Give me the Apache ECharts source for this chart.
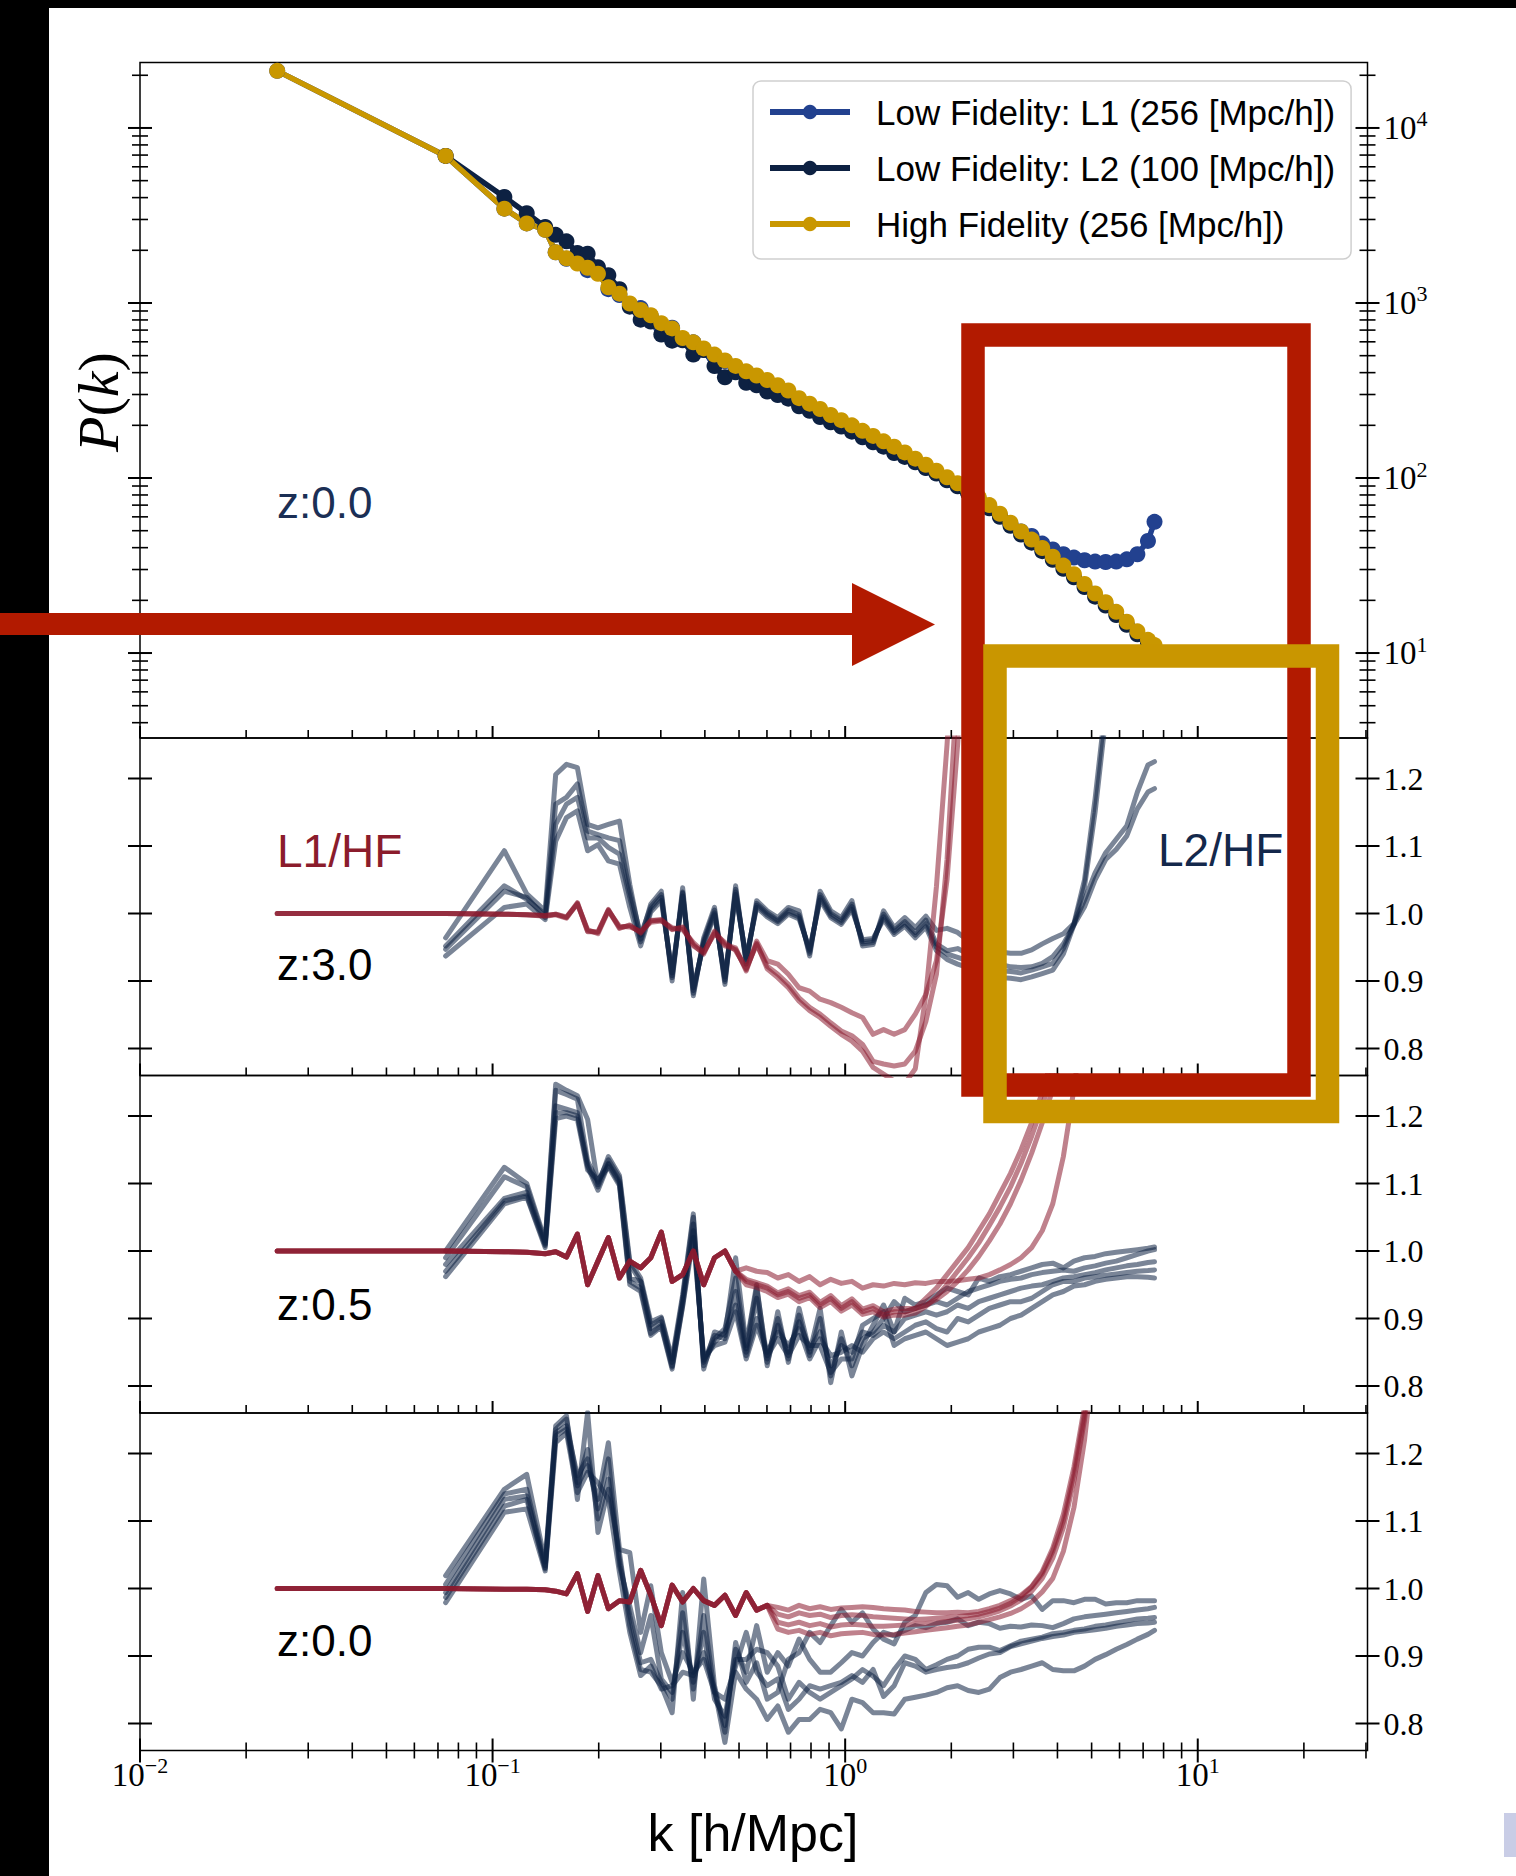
<!DOCTYPE html>
<html><head><meta charset="utf-8">
<script src="https://cdn.jsdelivr.net/npm/echarts@6/dist/echarts.min.js"></script>
<style>html,body{margin:0;padding:0;background:#fff;}#c{width:1516px;height:1876px;}</style>
</head><body><div id="c"></div>
<script>
// ---------- k grid (h/Mpc) ----------
const kGrid = [0.0245, 0.0736, 0.108, 0.125, 0.141, 0.151, 0.162, 0.174, 0.186, 0.199, 0.213, 0.229, 0.245, 0.263, 0.281, 0.301, 0.323, 0.346, 0.371, 0.397, 0.426, 0.456, 0.489, 0.524, 0.561, 0.601, 0.644, 0.690, 0.740, 0.793, 0.849, 0.910, 0.975, 1.045, 1.120, 1.200, 1.285, 1.377, 1.476, 1.581, 1.694, 1.815, 1.945, 2.084, 2.233, 2.393, 2.564, 2.747, 2.944, 3.154, 3.380, 3.622, 3.880, 4.158, 4.455, 4.774, 5.115, 5.481, 5.873, 6.292, 6.742, 7.224, 7.540];

// ---------- top panel P(k) at z = 0 ----------
const pkL1 = [21200, 6920, 3460, 2850, 2620, 1950, 1790, 1720, 1540, 1500, 1200, 1110, 975, 935, 842, 725, 722, 618, 596, 540, 495, 465, 420, 404, 373, 354, 330, 306, 278, 258, 241, 222, 208, 194, 181, 169, 157, 147, 136, 125, 115, 107, 98.0, 90.5, 82.6, 75.5, 68.2, 61.0, 54.5, 49.5, 46.6, 42.2, 39.1, 36.7, 35.1, 33.9, 33.3, 33.1, 33.3, 34.3, 36.7, 43.7, 56.2];
const pkL2 = [null, 6920, 4030, 3260, 2720, 2450, 2250, 1930, 1910, 1600, 1440, 1200, 953, 803, 783, 660, 609, 612, 507, 539, 436, 376, 402, 350, 339, 312, 298, 284, 257, 242, 223, 208, 197, 184, 171, 160, 151, 139, 132, 123, 114, 106, 97.0, 89.6, 81.7, 74.5, 67.2, 60.0, 53.3, 47.5, 42.7, 38.2, 34.1, 30.3, 27.1, 23.8, 21.0, 18.7, 16.5, 14.5, 12.8, 11.4, 10.7];
const pkHF = [21200, 6920, 3460, 2850, 2620, 1950, 1800, 1680, 1590, 1470, 1230, 1130, 993, 912, 851, 767, 716, 631, 596, 550, 507, 470, 437, 407, 385, 363, 339, 316, 286, 266, 248, 229, 214, 200, 186, 174, 162, 151, 140, 129, 119, 110, 101, 93.3, 85.1, 77.6, 70.0, 62.5, 55.5, 49.5, 44.5, 39.8, 35.5, 31.6, 28.2, 24.8, 21.9, 19.5, 17.2, 15.1, 13.3, 11.9, 11.1];

// ---------- ratio panel z = 3.0 ----------
const z3_L2_a = [null, 0.964, 1.093, 1.029, 1.004, 1.206, 1.221, 1.216, 1.132, 1.127, 1.132, 1.137, 1.043, 0.962, 1.014, 1.033, 0.900, 1.038, 0.878, 0.964, 1.009, 0.895, 1.041, 0.925, 1.019, 1.004, 0.994, 1.009, 1.004, 0.937, 1.033, 1.004, 0.994, 1.019, 0.952, 0.954, 1.004, 0.979, 0.994, 0.979, 0.996, 0.975, 0.978, 0.972, 0.960, 0.950, 0.945, 0.943, 0.941, 0.941, 0.946, 0.955, 0.963, 0.970, 0.985, 1.050, 1.170, 1.310, 1.500];
const z3_L2_b = [null, 0.952, 1.041, 1.021, 0.999, 1.162, 1.172, 1.192, 1.122, 1.117, 1.112, 1.108, 1.033, 0.968, 1.010, 1.028, 0.905, 1.032, 0.882, 0.960, 1.005, 0.899, 1.036, 0.929, 1.015, 1.001, 0.990, 1.005, 0.998, 0.941, 1.028, 1.000, 0.990, 1.014, 0.955, 0.957, 0.999, 0.975, 0.988, 0.972, 0.990, 0.955, 0.945, 0.948, 0.940, 0.935, 0.930, 0.925, 0.921, 0.920, 0.921, 0.926, 0.936, 0.955, 0.983, 1.040, 1.150, 1.290, 1.470];
const z3_L2_c = [null, 0.947, 1.033, 1.024, 0.994, 1.132, 1.162, 1.172, 1.112, 1.112, 1.098, 1.088, 1.024, 0.958, 1.006, 1.024, 0.908, 1.030, 0.886, 0.957, 1.001, 0.902, 1.032, 0.932, 1.012, 0.998, 0.988, 1.002, 0.995, 0.944, 1.024, 0.997, 0.987, 1.010, 0.958, 0.960, 0.995, 0.972, 0.985, 0.968, 0.985, 0.950, 0.940, 0.935, 0.930, 0.925, 0.920, 0.915, 0.914, 0.912, 0.916, 0.921, 0.926, 0.948, 0.985, 1.020, 1.060, 1.090, 1.110, 1.130, 1.180, 1.220, 1.225];
const z3_L2_d = [null, 0.937, 1.009, 1.014, 0.991, 1.107, 1.142, 1.152, 1.093, 1.102, 1.078, 1.073, 1.009, 0.952, 1.002, 1.019, 0.912, 1.026, 0.890, 0.954, 0.998, 0.906, 1.028, 0.935, 1.009, 0.995, 0.985, 0.999, 0.992, 0.947, 1.020, 0.994, 0.984, 1.006, 0.961, 0.963, 0.991, 0.969, 0.981, 0.964, 0.980, 0.945, 0.932, 0.925, 0.920, 0.915, 0.910, 0.905, 0.904, 0.902, 0.906, 0.911, 0.916, 0.940, 0.983, 1.010, 1.050, 1.080, 1.095, 1.115, 1.155, 1.180, 1.185];
const z3_L1_a = [1.000, 1.000, 0.999, 0.998, 0.997, 0.999, 0.994, 1.016, 0.974, 0.972, 1.006, 0.979, 0.982, 0.972, 0.989, 0.991, 0.977, 0.979, 0.954, 0.940, 0.974, 0.954, 0.949, 0.915, 0.959, 0.930, 0.925, 0.910, 0.890, 0.885, 0.873, 0.868, 0.861, 0.853, 0.846, 0.821, 0.828, 0.821, 0.828, 0.851, 0.880, 0.930, 1.050, 1.250, 1.500];
const z3_L1_b = [1.000, 1.000, 0.999, 0.998, 0.997, 0.999, 0.995, 1.014, 0.976, 0.970, 1.004, 0.981, 0.980, 0.974, 0.987, 0.989, 0.979, 0.976, 0.957, 0.943, 0.970, 0.957, 0.945, 0.919, 0.954, 0.922, 0.910, 0.895, 0.875, 0.861, 0.851, 0.838, 0.826, 0.819, 0.806, 0.781, 0.777, 0.774, 0.777, 0.796, 0.840, 0.910, 1.080, 1.350];
const z3_L1_c = [1.000, 1.000, 0.999, 0.998, 0.996, 0.998, 0.993, 1.015, 0.973, 0.973, 1.005, 0.978, 0.983, 0.971, 0.990, 0.990, 0.976, 0.980, 0.952, 0.942, 0.972, 0.952, 0.947, 0.917, 0.956, 0.918, 0.905, 0.890, 0.870, 0.856, 0.846, 0.833, 0.821, 0.811, 0.796, 0.772, 0.762, 0.752, 0.748, 0.770, 0.880, 1.040, 1.250, 1.500];

// ---------- ratio panel z = 0.5 ----------
const z05_L2_a = [null, 1.000, 1.124, 1.100, 1.015, 1.247, 1.238, 1.230, 1.195, 1.098, 1.140, 1.112, 0.985, 0.960, 0.895, 0.902, 0.840, 0.935, 1.055, 0.825, 0.880, 0.875, 0.990, 0.860, 0.950, 0.830, 0.910, 0.835, 0.915, 0.850, 0.915, 0.805, 0.880, 0.815, 0.860, 0.890, 0.920, 0.880, 0.930, 0.920, 0.925, 0.935, 0.945, 0.940, 0.935, 0.960, 0.955, 0.962, 0.965, 0.970, 0.975, 0.980, 0.982, 0.975, 0.985, 0.990, 0.992, 0.996, 0.998, 1.000, 1.002, 1.004, 1.006];
const z05_L2_b = [null, 0.990, 1.110, 1.095, 1.012, 1.238, 1.232, 1.225, 1.133, 1.102, 1.135, 1.108, 0.980, 0.955, 0.890, 0.900, 0.835, 0.930, 1.050, 0.830, 0.870, 0.885, 0.960, 0.855, 0.945, 0.840, 0.900, 0.840, 0.905, 0.845, 0.900, 0.815, 0.870, 0.830, 0.870, 0.880, 0.900, 0.925, 0.910, 0.915, 0.920, 0.925, 0.920, 0.930, 0.940, 0.945, 0.950, 0.955, 0.958, 0.960, 0.965, 0.968, 0.970, 0.972, 0.970, 0.975, 0.978, 0.982, 0.985, 0.990, 0.995, 1.000, 1.002];
const z05_L2_c = [null, 0.980, 1.078, 1.087, 1.010, 1.215, 1.210, 1.205, 1.128, 1.095, 1.130, 1.103, 0.960, 0.955, 0.885, 0.895, 0.830, 0.925, 1.040, 0.835, 0.875, 0.870, 0.940, 0.850, 0.930, 0.835, 0.890, 0.850, 0.895, 0.855, 0.880, 0.830, 0.860, 0.850, 0.880, 0.875, 0.890, 0.880, 0.900, 0.905, 0.910, 0.905, 0.910, 0.920, 0.915, 0.925, 0.930, 0.935, 0.940, 0.945, 0.948, 0.950, 0.955, 0.960, 0.962, 0.965, 0.968, 0.972, 0.975, 0.978, 0.980, 0.983, 0.984];
const z05_L2_d = [null, 0.970, 1.074, 1.082, 1.008, 1.205, 1.205, 1.200, 1.125, 1.090, 1.128, 1.100, 0.955, 0.945, 0.878, 0.890, 0.828, 0.920, 1.030, 0.838, 0.865, 0.880, 0.920, 0.845, 0.900, 0.850, 0.880, 0.860, 0.885, 0.840, 0.870, 0.845, 0.850, 0.860, 0.850, 0.870, 0.880, 0.870, 0.880, 0.890, 0.895, 0.885, 0.880, 0.900, 0.895, 0.905, 0.915, 0.920, 0.925, 0.925, 0.930, 0.940, 0.950, 0.955, 0.955, 0.960, 0.962, 0.964, 0.966, 0.968, 0.970, 0.971, 0.972];
const z05_L2_e = [null, 0.962, 1.070, 1.080, 1.005, 1.196, 1.200, 1.195, 1.120, 1.105, 1.125, 1.097, 0.950, 0.940, 0.875, 0.888, 0.825, 0.918, 1.020, 0.842, 0.860, 0.865, 0.910, 0.840, 0.890, 0.845, 0.870, 0.845, 0.875, 0.860, 0.860, 0.820, 0.840, 0.840, 0.890, 0.900, 0.910, 0.860, 0.870, 0.875, 0.880, 0.870, 0.860, 0.865, 0.870, 0.880, 0.885, 0.890, 0.900, 0.905, 0.915, 0.925, 0.935, 0.940, 0.948, 0.950, 0.955, 0.958, 0.960, 0.962, 0.962, 0.961, 0.960];
const z05_L1_low = [1.000, 1.000, 0.999, 0.998, 0.996, 0.999, 0.991, 1.025, 0.950, 0.985, 1.020, 0.960, 0.985, 0.975, 0.990, 1.028, 0.955, 0.965, 1.000, 0.950, 0.990, 1.000, 0.970];
const z05_L1_a = [0.975, 0.970, 0.968, 0.960, 0.965, 0.955, 0.962, 0.950, 0.958, 0.952, 0.955, 0.945, 0.950, 0.948, 0.952, 0.950, 0.953, 0.952, 0.955, 0.955, 0.956, 0.958, 0.960, 0.965, 0.972, 0.980, 0.990, 1.005, 1.030, 1.070, 1.140, 1.240, 1.360];
const z05_L1_b = [0.955, 0.950, 0.945, 0.935, 0.940, 0.930, 0.935, 0.920, 0.930, 0.915, 0.925, 0.910, 0.915, 0.905, 0.910, 0.910, 0.915, 0.930, 0.945, 0.965, 0.985, 1.005, 1.030, 1.055, 1.085, 1.115, 1.150, 1.190, 1.235, 1.290];
const z05_L1_c = [0.950, 0.946, 0.940, 0.931, 0.936, 0.925, 0.931, 0.916, 0.925, 0.911, 0.920, 0.906, 0.910, 0.902, 0.905, 0.905, 0.908, 0.918, 0.932, 0.950, 0.970, 0.990, 1.012, 1.038, 1.065, 1.095, 1.130, 1.170, 1.215, 1.265, 1.330];
const z05_L1_d = [0.958, 0.953, 0.948, 0.938, 0.944, 0.934, 0.939, 0.924, 0.934, 0.919, 0.929, 0.914, 0.919, 0.910, 0.914, 0.915, 0.915, 0.920, 0.928, 0.940, 0.955, 0.972, 0.992, 1.015, 1.040, 1.070, 1.105, 1.145, 1.190, 1.240, 1.300];

// ---------- ratio panel z = 0.0 ----------
const z0_L2_a = [null, 1.019, 1.147, 1.169, 1.039, 1.241, 1.256, 1.132, 1.261, 1.083, 1.147, 1.053, 0.945, 0.880, 0.876, 0.856, 0.816, 0.994, 0.836, 1.014, 0.856, 0.787, 0.920, 0.861, 0.890, 0.836, 0.846, 0.895, 0.905, 0.935, 0.920, 0.945, 0.969, 0.950, 0.964, 0.940, 0.925, 0.918, 0.950, 0.960, 0.994, 1.006, 1.004, 0.987, 0.994, 0.984, 0.992, 0.997, 0.992, 0.984, 0.989, 0.969, 0.982, 0.982, 0.979, 0.984, 0.984, 0.977, 0.979, 0.979, 0.982, 0.982, 0.982];
const z0_L2_b = [null, 1.006, 1.140, 1.147, 1.034, 1.236, 1.251, 1.157, 1.206, 1.103, 1.162, 1.043, 0.960, 0.890, 0.895, 0.861, 0.836, 0.964, 0.851, 0.960, 0.846, 0.797, 0.910, 0.876, 0.945, 0.876, 0.905, 0.885, 0.925, 0.895, 0.876, 0.876, 0.890, 0.905, 0.900, 0.920, 0.935, 0.930, 0.938, 0.945, 0.942, 0.948, 0.950, 0.955, 0.945, 0.950, 0.948, 0.941, 0.944, 0.943, 0.946, 0.945, 0.942, 0.948, 0.955, 0.958, 0.960, 0.962, 0.964, 0.966, 0.968, 0.970, 0.972];
const z0_L2_c = [null, 0.994, 1.132, 1.137, 1.031, 1.231, 1.241, 1.167, 1.192, 1.118, 1.192, 1.034, 0.974, 0.905, 0.960, 0.866, 0.846, 0.935, 0.861, 0.935, 0.836, 0.811, 0.895, 0.895, 0.910, 0.905, 0.885, 0.836, 0.861, 0.846, 0.836, 0.846, 0.856, 0.866, 0.880, 0.870, 0.856, 0.880, 0.900, 0.895, 0.880, 0.887, 0.895, 0.900, 0.910, 0.913, 0.913, 0.908, 0.915, 0.922, 0.925, 0.928, 0.933, 0.935, 0.938, 0.940, 0.944, 0.946, 0.949, 0.952, 0.955, 0.956, 0.957];
const z0_L2_d = [null, 0.987, 1.122, 1.132, 1.029, 1.226, 1.236, 1.152, 1.182, 1.132, 1.216, 1.058, 1.053, 0.935, 1.004, 0.905, 0.861, 0.905, 0.876, 0.895, 0.846, 0.836, 0.885, 0.935, 0.876, 0.856, 0.866, 0.821, 0.836, 0.856, 0.851, 0.856, 0.861, 0.871, 0.861, 0.880, 0.840, 0.856, 0.890, 0.885, 0.876, 0.880, 0.883, 0.885, 0.890, 0.897, 0.903, 0.905, 0.914, 0.918, 0.922, 0.926, 0.929, 0.931, 0.935, 0.937, 0.939, 0.941, 0.944, 0.946, 0.948, 0.949, 0.950];
const z0_L2_e = [null, 0.979, 1.113, 1.118, 1.026, 1.216, 1.231, 1.142, 1.172, 1.157, 1.132, 1.024, 0.935, 0.871, 0.885, 0.851, 0.856, 0.876, 0.871, 0.905, 0.851, 0.772, 0.876, 0.851, 0.836, 0.806, 0.826, 0.787, 0.806, 0.806, 0.821, 0.816, 0.792, 0.836, 0.831, 0.816, 0.816, 0.814, 0.836, 0.839, 0.842, 0.846, 0.853, 0.856, 0.849, 0.846, 0.851, 0.868, 0.876, 0.880, 0.885, 0.890, 0.880, 0.878, 0.878, 0.885, 0.895, 0.902, 0.910, 0.917, 0.925, 0.932, 0.938];
const z0_L1_low = [1.000, 1.000, 0.999, 0.999, 0.998, 0.996, 0.992, 1.022, 0.966, 1.019, 0.970, 0.982, 0.980, 1.027, 0.990, 0.945, 1.005, 0.980, 1.000, 0.982, 0.975, 0.990, 0.960, 0.994, 0.968, 0.975];
const z0_L1_a = [0.972, 0.968, 0.975, 0.970, 0.973, 0.969, 0.971, 0.972, 0.973, 0.972, 0.970, 0.969, 0.968, 0.966, 0.965, 0.964, 0.964, 0.965, 0.964, 0.966, 0.970, 0.975, 0.982, 0.990, 1.003, 1.025, 1.060, 1.110, 1.180, 1.270, 1.400];
const z0_L1_b = [0.962, 0.958, 0.964, 0.960, 0.962, 0.957, 0.960, 0.961, 0.960, 0.958, 0.957, 0.956, 0.955, 0.954, 0.955, 0.956, 0.957, 0.958, 0.960, 0.962, 0.966, 0.971, 0.978, 0.988, 1.002, 1.022, 1.055, 1.100, 1.170, 1.260, 1.390];
const z0_L1_c = [0.950, 0.946, 0.950, 0.945, 0.948, 0.943, 0.946, 0.947, 0.946, 0.944, 0.944, 0.945, 0.946, 0.947, 0.948, 0.949, 0.951, 0.953, 0.955, 0.958, 0.962, 0.967, 0.974, 0.983, 0.996, 1.015, 1.045, 1.090, 1.160, 1.250, 1.380];
const z0_L1_d = [0.940, 0.935, 0.938, 0.932, 0.935, 0.930, 0.933, 0.934, 0.935, 0.932, 0.931, 0.932, 0.934, 0.936, 0.938, 0.940, 0.942, 0.944, 0.946, 0.950, 0.954, 0.958, 0.963, 0.970, 0.980, 0.995, 1.015, 1.055, 1.120, 1.220, 1.360];

// ---------- ticks ----------
const xMajorTicks = [0.01, 0.1, 1, 10];
const xMinorTicks = [0.02, 0.03, 0.04, 0.05, 0.06, 0.07, 0.08, 0.09, 0.2, 0.3, 0.4, 0.5, 0.6, 0.7, 0.8, 0.9, 2, 3, 4, 5, 6, 7, 8, 9, 20, 30];
const pMajorTicks = [10, 100, 1000, 10000];
const pMinorTicks = [4, 5, 6, 7, 8, 9, 20, 30, 40, 50, 60, 70, 80, 90, 200, 300, 400, 500, 600, 700, 800, 900, 2000, 3000, 4000, 5000, 6000, 7000, 8000, 9000, 20000];
const ratioTicks = [0.8, 0.9, 1.0, 1.1, 1.2];

const legendNames = ['Low Fidelity: L1 (256 [Mpc/h])', 'Low Fidelity: L2 (100 [Mpc/h])', 'High Fidelity (256 [Mpc/h])'];
const zLabels = ['z:0.0', 'z:3.0', 'z:0.5', 'z:0.0'];

// ---------- styling ----------
const SANS = '"Liberation Sans", Arial, sans-serif';
const SERIF = '"Liberation Serif", "Times New Roman", serif';
const C_L1 = '#22418f', C_L2 = '#0d2142', C_HF = '#c99700';
const NAVY_A = 'rgba(13,33,66,0.55)', RED_A = 'rgba(139,26,45,0.55)';

function pts(arr) {
  const out = [];
  for (let i = 0; i < arr.length; i++) if (arr[i] != null) out.push([kGrid[i], arr[i]]);
  return out;
}

const grids = [
  {top: 62.5, height: 675.5},
  {top: 738, height: 337.5},
  {top: 1075.5, height: 337.5},
  {top: 1413, height: 337.5}
].map(g => Object.assign({left: 140, right: 148.5, show: true, borderColor: '#000', borderWidth: 1.5, backgroundColor: 'rgba(0,0,0,0)', containLabel: false, outerBoundsMode: 'none'}, g));

const supFmt = v => { const e = Math.round(Math.log10(v)); return '{b|10}{s|' + (e < 0 ? '\u2212' + (-e) : e) + '}'; };
const supRich = {
  b: {fontFamily: SERIF, fontSize: 33, lineHeight: 40, color: '#000'},
  s: {fontFamily: SERIF, fontSize: 22, lineHeight: 24, verticalAlign: 'top', color: '#000'}
};

const xAxes = [0, 1, 2, 3].map(i => ({
  gridIndex: i, type: 'log', logBase: 10, min: 0.01, max: 30.3,
  axisLine: {show: false}, axisTick: {show: false}, splitLine: {show: false},
  axisLabel: i === 3 ? {show: true, margin: 4, formatter: supFmt, rich: supRich, showMinLabel: true, showMaxLabel: false} : {show: false}
}));
const yAxes = [{
  gridIndex: 0, type: 'log', logBase: 10, min: 3.27, max: 23660, position: 'right',
  axisLine: {show: false}, axisTick: {show: false}, splitLine: {show: false},
  axisLabel: {show: true, margin: 16, formatter: supFmt, rich: supRich, showMinLabel: false, showMaxLabel: false}
}].concat([1, 2, 3].map(i => ({
  gridIndex: i, type: 'value', min: 0.76, max: 1.26, position: 'right',
  axisLine: {show: false}, axisTick: {show: false}, splitLine: {show: false},
  axisLabel: {show: true, margin: 16, formatter: v => v.toFixed(1), fontFamily: SERIF, fontSize: 32, color: '#000', showMinLabel: false, showMaxLabel: false}
})));

function tickSeries(gi) {
  const data = [];
  const midY = gi === 0 ? 100 : 1.0;
  xMajorTicks.forEach(k => data.push([k, midY, 0, 1]));
  xMinorTicks.forEach(k => data.push([k, midY, 0, 0]));
  if (gi === 0) {
    pMajorTicks.forEach(p => data.push([1, p, 1, 1]));
    pMinorTicks.forEach(p => data.push([1, p, 1, 0]));
  } else {
    ratioTicks.forEach(v => data.push([1, v, 1, 1]));
  }
  return {
    type: 'custom', xAxisIndex: gi, yAxisIndex: gi, silent: true, clip: false, z: 5,
    dimensions: ['x', 'y', 'kind', 'major'], encode: {x: 0, y: 1},
    data: data,
    renderItem: function (params, api) {
      const cs = params.coordSys;
      const kind = api.value(2), major = api.value(3);
      const len = major ? 12 : 8;
      const lw = major ? 2 : 1.6;
      const st = {stroke: '#000', lineWidth: lw};
      if (kind === 0) {
        const x = api.coord([api.value(0), api.value(1)])[0];
        const yb = cs.y + cs.height;
        const down = gi === 3 ? len : 0;
        return {type: 'line', shape: {x1: x, y1: yb - len, x2: x, y2: yb + down}, style: st};
      }
      const y = api.coord([api.value(0), api.value(1)])[1];
      return {type: 'group', children: [
        {type: 'line', shape: {x1: cs.x - len, y1: y, x2: cs.x + len, y2: y}, style: st},
        {type: 'line', shape: {x1: cs.x + cs.width - len, y1: y, x2: cs.x + cs.width + len, y2: y}, style: st}
      ]};
    }
  };
}

function ratioLine(gi, arr, color) {
  return {type: 'line', xAxisIndex: gi, yAxisIndex: gi, data: pts(arr), symbol: 'none', silent: true, clip: true,
    lineStyle: {width: 5, color: color, join: 'round', cap: 'round'}, emphasis: {disabled: true}, z: 3};
}
function pkLine(name, arr, color) {
  return {type: 'line', name: name, xAxisIndex: 0, yAxisIndex: 0, data: pts(arr), symbol: 'circle', symbolSize: 16,
    showAllSymbol: true, silent: true, clip: true,
    lineStyle: {width: 5.5, color: color, join: 'round'}, itemStyle: {color: color}, emphasis: {disabled: true}, z: 3};
}

const series = [
  pkLine(legendNames[0], pkL1, C_L1),
  pkLine(legendNames[1], pkL2, C_L2),
  pkLine(legendNames[2], pkHF, C_HF),
  // z = 3.0
  ratioLine(1, z3_L2_a, NAVY_A), ratioLine(1, z3_L2_b, NAVY_A), ratioLine(1, z3_L2_c, NAVY_A), ratioLine(1, z3_L2_d, NAVY_A),
  ratioLine(1, z3_L1_a, RED_A), ratioLine(1, z3_L1_b, RED_A), ratioLine(1, z3_L1_c, RED_A),
  // z = 0.5
  ratioLine(2, z05_L2_a, NAVY_A), ratioLine(2, z05_L2_b, NAVY_A), ratioLine(2, z05_L2_c, NAVY_A), ratioLine(2, z05_L2_d, NAVY_A), ratioLine(2, z05_L2_e, NAVY_A),
  ratioLine(2, z05_L1_low.concat(z05_L1_a), RED_A), ratioLine(2, z05_L1_low.concat(z05_L1_b), RED_A),
  ratioLine(2, z05_L1_low.concat(z05_L1_c), RED_A), ratioLine(2, z05_L1_low.concat(z05_L1_d), RED_A),
  // z = 0.0
  ratioLine(3, z0_L2_a, NAVY_A), ratioLine(3, z0_L2_b, NAVY_A), ratioLine(3, z0_L2_c, NAVY_A), ratioLine(3, z0_L2_d, NAVY_A), ratioLine(3, z0_L2_e, NAVY_A),
  ratioLine(3, z0_L1_low.concat(z0_L1_a), RED_A), ratioLine(3, z0_L1_low.concat(z0_L1_b), RED_A),
  ratioLine(3, z0_L1_low.concat(z0_L1_c), RED_A), ratioLine(3, z0_L1_low.concat(z0_L1_d), RED_A),
  tickSeries(0), tickSeries(1), tickSeries(2), tickSeries(3)
];

function txt(x, y, text, size, color, align) {
  return {type: 'text', x: x, y: y, z: 20, silent: true,
    style: {text: text, fontFamily: SANS, fontSize: size, fill: color, align: align || 'left', verticalAlign: 'middle'}};
}

const graphic = [
  txt(277, 502, zLabels[0], 44, '#1b2f55'),
  txt(277, 851, 'L1/HF', 46, '#8b1c2c'),
  txt(1158, 850, 'L2/HF', 46, '#14284b'),
  txt(277, 964, zLabels[1], 44, '#000'),
  txt(277, 1304, zLabels[2], 44, '#000'),
  txt(277, 1640, zLabels[3], 44, '#000'),
  txt(753, 1833, 'k [h/Mpc]', 52, '#000', 'center'),
  {type: 'text', x: 98, y: 402, rotation: Math.PI / 2, z: 20, silent: true,
    style: {text: '{i|P}{n|(}{i|k}{n|)}', align: 'center', verticalAlign: 'middle', fill: '#000',
      rich: {i: {fontFamily: SERIF, fontStyle: 'italic', fontSize: 58, fill: '#000'}, n: {fontFamily: SERIF, fontSize: 58, fill: '#000'}}}},
  {type: 'rect', z: 50, silent: true, shape: {x: 0, y: 0, width: 1516, height: 8}, style: {fill: '#000'}},
  {type: 'rect', z: 50, silent: true, shape: {x: 0, y: 0, width: 49, height: 1876}, style: {fill: '#000'}},
  {type: 'rect', z: 50, silent: true, shape: {x: 1504, y: 1813, width: 12, height: 44}, style: {fill: '#c9cde6'}},
  {type: 'polygon', z: 100, silent: true, shape: {points: [[0, 613], [852, 613], [852, 583], [935, 624.5], [852, 666], [852, 635], [0, 635]]}, style: {fill: '#b21a00'}},
  {type: 'rect', z: 100, silent: true, shape: {x: 973, y: 335, width: 326, height: 750}, style: {fill: 'none', stroke: '#b21a00', lineWidth: 23.5}},
  {type: 'rect', z: 101, silent: true, shape: {x: 995, y: 656, width: 332.5, height: 455.5}, style: {fill: 'none', stroke: '#c99600', lineWidth: 23.5}}
];

const option = {
  animation: false,
  backgroundColor: '#fff',
  textStyle: {fontFamily: SANS},
  grid: grids,
  xAxis: xAxes,
  yAxis: yAxes,
  legend: {
    orient: 'vertical', left: 753, top: 81, padding: [11, 16, 15, 14],
    itemWidth: 80, itemHeight: 18, itemGap: 16,
    backgroundColor: '#fff', borderColor: '#cfcfcf', borderWidth: 1.5, borderRadius: 8,
    lineStyle: {width: 6},
    textStyle: {fontFamily: SANS, fontSize: 35, color: '#000', lineHeight: 40, padding: [0, 0, 0, 21]},
    data: legendNames, selectedMode: false
  },
  series: series,
  graphic: graphic
};

const chart = echarts.init(document.getElementById('c'), null, {renderer: 'svg'});
chart.setOption(option);
</script></body></html>
